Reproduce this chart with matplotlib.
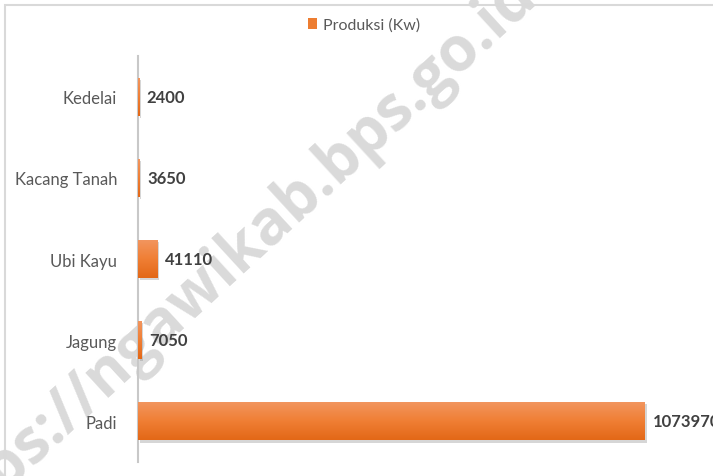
import matplotlib
matplotlib.use("Agg")
import matplotlib.pyplot as plt
import numpy as np
from matplotlib.patches import Rectangle, Patch
from matplotlib.colors import LinearSegmentedColormap
from matplotlib.font_manager import FontProperties
from matplotlib.textpath import text_to_path
import matplotlib.patheffects as pe

categories = ["Padi", "Jagung", "Ubi Kayu", "Kacang Tanah", "Kedelai"]
produksi = [1073970, 7050, 41110, 3650, 2400]
series_name = "Produksi (Kw)"
watermark = "https://ngawikab.bps.go.id"

plt.rcParams['font.family'] = ['Lato', 'DejaVu Sans']

W, H = 713, 477
DPI = 100
fig = plt.figure(figsize=(W / DPI, H / DPI), dpi=DPI)
fig.patch.set_facecolor('white')

# outer frame (cropped chart border)
fig.add_artist(Rectangle((5 / W, -0.2), 1.5, 1 - 6 / H + 0.2, transform=fig.transFigure,
                         fill=False, edgecolor='#d9d9d9', lw=1.5))

left, right = 138 / W, 1.0
bottom, top = 1 - 463 / H, 1 - 57 / H
ax = fig.add_axes([left, bottom, right - left, top - bottom])
ax.set_zorder(1)

y = np.arange(len(categories))
bars = ax.barh(y, produksi, height=0.47, color='#ED7D31', zorder=2, lw=0)
for b in bars:
    b.set_path_effects([pe.SimplePatchShadow(offset=(1.2, -1.5), shadow_rgbFace='#8c8c8c', alpha=0.35),
                        pe.Normal()])

xmax = produksi[0] * (713 - 138) / (645 - 138)
ax.set_xlim(0, xmax)
ax.set_ylim(-0.5, len(categories) - 0.5)

# gradient fill
cmap = LinearSegmentedColormap.from_list('g', ['#E36817', '#F07F35', '#F29660'])
grad = np.linspace(0, 1, 64).reshape(-1, 1)
for b in bars:
    x0, y0, w, h = b.get_x(), b.get_y(), b.get_width(), b.get_height()
    im = ax.imshow(grad, extent=[x0, x0 + w, y0, y0 + h], origin='lower', aspect='auto',
                   cmap=cmap, zorder=3, interpolation='bilinear')
    im.set_clip_path(b)

ax.set_xlim(0, xmax)
ax.set_ylim(-0.5, len(categories) - 0.5)

for yi, v in zip(y, produksi):
    ax.annotate(f"{v}", xy=(v, yi), xytext=(5.5, 0), textcoords='offset points',
                ha='left', va='center', fontsize=12, fontweight='bold', color='#404040',
                annotation_clip=False)

ax.set_yticks(y)
ax.set_yticklabels(categories, fontsize=12, color='#595959')
ax.tick_params(axis='y', length=0, pad=15)
ax.set_xticks([])
for s in ['top', 'right', 'bottom']:
    ax.spines[s].set_visible(False)
ax.spines['left'].set_color('#c8c8c8')
ax.spines['left'].set_linewidth(1.5)
ax.set_facecolor('none')

leg = fig.legend(handles=[Patch(facecolor='#ED7D31', label=series_name)], loc='center',
                 bbox_to_anchor=(364 / W, 1 - 26 / H), frameon=False, fontsize=11.5,
                 handlelength=0.6, handleheight=0.6, handletextpad=0.35,
                 labelcolor='#595959')

# watermark: least-squares fit of character centres to positions
wm_family = 'Open Sans'
def wid(s, fs):
    fp = FontProperties(family=wm_family, weight='bold', size=fs)
    return text_to_path.get_text_width_height_descent(s, fp, ismath=False)[0]

fs0 = 40.0
idx = np.array([4, 8, 13, 17, 19, 22])
ref_pts = np.array([[12, 455], [130, 355], [245, 235], [333, 167], [387, 110], [460, 47]], float)
ref_pts[:, 1] = H - ref_pts[:, 1]
c = np.array([wid(watermark[:i], fs0) + 0.5 * wid(watermark[i], fs0) for i in idx]) * DPI / 72
A = np.vstack([np.ones_like(c), c]).T
coef_x = np.linalg.lstsq(A, ref_pts[:, 0], rcond=None)[0]
coef_y = np.linalg.lstsq(A, ref_pts[:, 1], rcond=None)[0]
vec = np.array([coef_x[1], coef_y[1]])
scale = np.hypot(*vec)
theta = np.arctan2(vec[1], vec[0])
fs = fs0 * scale
perp = np.array([-np.sin(theta), np.cos(theta)])
origin_centre = np.array([coef_x[0], coef_y[0]])
mid_px = 0.3 * fs * DPI / 72
start = origin_centre - perp * mid_px
fig.text(start[0] / W, start[1] / H, watermark, rotation=np.degrees(theta),
         ha='left', va='baseline', rotation_mode='anchor',
         fontsize=fs, fontweight='bold', family=wm_family, color='#dadada',
         zorder=0)

fig.savefig('out.png', dpi=DPI, facecolor='white')
